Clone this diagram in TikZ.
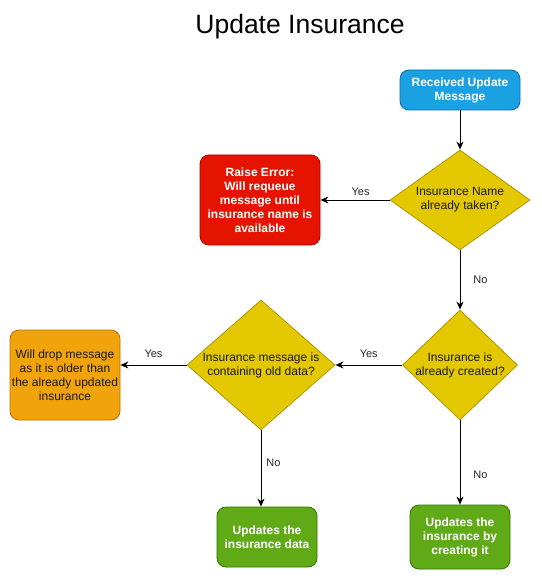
\documentclass[tikz,border=0pt]{standalone}
\usepackage{fontspec}
\setmainfont{Liberation Sans}
\usetikzlibrary{arrows.meta,shapes.geometric}
\definecolor{bluef}{HTML}{1BA1E2}\definecolor{blues}{HTML}{006EAF}
\definecolor{redf}{HTML}{E51400}\definecolor{reds}{HTML}{B20000}
\definecolor{oranf}{HTML}{F0A30A}\definecolor{orans}{HTML}{BD7000}
\definecolor{greenf}{HTML}{60A917}\definecolor{greens}{HTML}{2D7600}
\definecolor{yelf}{HTML}{E3C800}\definecolor{yels}{HTML}{B09500}
\tikzset{
  box/.style={rounded corners=9pt, line width=0.8pt, inner sep=0pt, align=center,
    font=\fontsize{12}{14}\selectfont},
  dia/.style={diamond, fill=yelf, draw=yels, line width=0.8pt, inner sep=0pt},
  diatext/.style={align=center, font=\fontsize{12}{14}\selectfont, text=black!90, inner sep=0pt},
  arr/.style={-{Stealth[length=8pt,width=7pt,inset=2.5pt]}, line width=0.9pt},
  lbl/.style={font=\fontsize{11}{13}\selectfont, text=black!85, inner sep=1pt},
}
\begin{document}
\begin{tikzpicture}[x=1pt,y=-1pt]
\useasboundingbox (0,0) rectangle (541,580);
\node (title) at (300,27) {\fontsize{26.5}{30}\selectfont Update Insurance};

\node[box, fill=bluef, draw=blues, text=white, minimum width=120pt, minimum height=40pt, font=\fontsize{12}{14}\selectfont\bfseries] (recv) at (460,90) {Received Update\\Message};

\node[dia, minimum width=140pt, minimum height=100pt] (d1) at (460,200) {};
\node[diatext] (d1t) at (460,200) {Insurance Name\\already taken?};

\node[box, fill=redf, draw=reds, text=white, minimum width=120pt, minimum height=90pt, font=\fontsize{12}{14}\selectfont\bfseries] (err) at (260,200) {Raise Error:\\Will requeue\\message until\\insurance name is\\available};

\node[dia, minimum width=115pt, minimum height=110pt] (d2) at (460,365) {};
\node[diatext] (d2t) at (460,365) {Insurance is\\already created?};

\node[dia, minimum width=148pt, minimum height=130pt] (d3) at (261,365) {};
\node[diatext] (d3t) at (261,365) {Insurance message is\\containing old data?};

\node[box, fill=oranf, draw=orans, text=black!90, minimum width=110pt, minimum height=90pt] (drop) at (65,375) {Will drop message\\as it is older than\\the already updated\\insurance};

\node[box, fill=greenf, draw=greens, text=white, minimum width=100pt, minimum height=60pt, font=\fontsize{12}{14}\selectfont\bfseries] (upd) at (267,537) {Updates the\\insurance data};

\node[box, fill=greenf, draw=greens, text=white, minimum width=100pt, minimum height=64pt, font=\fontsize{12}{14}\selectfont\bfseries] (create) at (460,537) {Updates the\\insurance by\\creating it};

\draw[arr] (recv.south) -- (d1.north);
\draw[arr] (d1.west) -- (err.east) node[lbl, pos=0.42, above=3pt] (y1) {Yes};
\draw[arr] (d1.south) -- (d2.north) node[lbl, pos=0.5, right=12pt] (n1) {No};
\draw[arr] (d2.west) -- (d3.east) node[lbl, pos=0.5, above=6pt] (y2) {Yes};
\draw[arr] (d3.west) -- (drop.east |- d3.west) node[lbl, pos=0.5, above=6pt] (y3) {Yes};
\draw[arr] (d3.south) -- (d3.south |- upd.north) node[lbl, pos=0.42, right=4pt] (n2) {No};
\draw[arr] (d2.south) -- (create.north) node[lbl, pos=0.65, right=12pt] (n3) {No};
\end{tikzpicture}
\end{document}
